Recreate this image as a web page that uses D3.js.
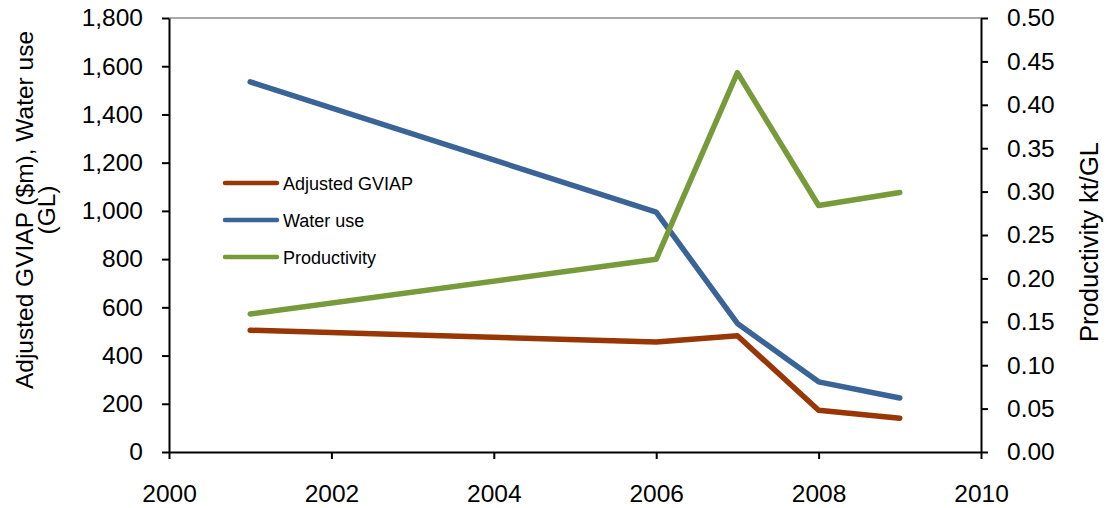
<!DOCTYPE html>
<html>
<head>
<meta charset="utf-8">
<script src="https://cdn.jsdelivr.net/npm/d3@7"></script>
<style>
  html, body { margin: 0; padding: 0; background: #fff; }
  svg { display: block; font-family: "Liberation Sans", Arial, sans-serif; }
</style>
</head>
<body>
<svg id="chart" width="1107" height="508"></svg>
<script>
// Series data
const years = [2001, 2006, 2007, 2008, 2009];
const gviap = [505, 456, 482, 173, 140];          // Adjusted GVIAP ($m)
const waterUse = [1535, 995, 533, 291, 224];      // Water use (GL)
const productivity = [0.159, 0.222, 0.437, 0.284, 0.299]; // kt/GL

// Axis ticks
const xTicks = [2000, 2002, 2004, 2006, 2008, 2010];
const leftTicks = [0, 200, 400, 600, 800, 1000, 1200, 1400, 1600, 1800];
const rightTicks = [0, 0.05, 0.1, 0.15, 0.2, 0.25, 0.3, 0.35, 0.4, 0.45, 0.5];

const legendNames = ["Adjusted GVIAP", "Water use", "Productivity"];
const colors = ["#993606", "#3A6497", "#779A3A"];

const svg = d3.select("#chart");
const m = { left: 169, right: 981, top: 18, bottom: 452 };

const x = d3.scaleLinear().domain([2000, 2010]).range([m.left, m.right]);
const yL = d3.scaleLinear().domain([0, 1800]).range([m.bottom, m.top]);
const yR = d3.scaleLinear().domain([0, 0.5]).range([m.bottom, m.top]);

// Top frame line
svg.append("line")
  .attr("x1", m.left).attr("x2", m.right)
  .attr("y1", m.top).attr("y2", m.top)
  .attr("stroke", "#8c8c8c").attr("stroke-width", 1.5);

const fmtL = d3.format(",");
const fmtR = d3.format(".2f");

const styleAxis = g => {
  g.selectAll(".domain").attr("stroke", "#000").attr("stroke-width", 2);
  g.selectAll(".tick line").attr("stroke", "#000").attr("stroke-width", 2);
  g.selectAll(".tick text").attr("fill", "#000")
    .style("font-family", '"Liberation Sans", Arial, sans-serif')
    .style("font-size", "24.5px");
};

svg.append("g")
  .attr("transform", `translate(${m.left},0)`)
  .call(d3.axisLeft(yL).tickValues(leftTicks).tickFormat(fmtL).tickSize(7).tickSizeOuter(0).tickPadding(19))
  .call(styleAxis);

svg.append("g")
  .attr("transform", `translate(${m.right},0)`)
  .call(d3.axisRight(yR).tickValues(rightTicks).tickFormat(fmtR).tickSize(7).tickSizeOuter(0).tickPadding(19))
  .call(styleAxis);

svg.append("g")
  .attr("transform", `translate(0,${m.bottom})`)
  .call(d3.axisBottom(x).tickValues(xTicks).tickFormat(d3.format("d")).tickSize(7).tickSizeOuter(0).tickPadding(26))
  .call(styleAxis);

// Axis titles
const leftTitle = svg.append("text")
  .attr("transform", `translate(33,210) rotate(-90)`)
  .attr("text-anchor", "middle")
  .style("font-size", "24.5px").attr("fill", "#000");
leftTitle.append("tspan").attr("x", 0).attr("y", 0).text("Adjusted GVIAP ($m), Water use");
leftTitle.append("tspan").attr("x", 0).attr("y", 22).text("(GL)");

svg.append("text")
  .attr("transform", `translate(1098,242) rotate(-90)`)
  .attr("text-anchor", "middle")
  .style("font-size", "25.5px").attr("fill", "#000")
  .text("Productivity kt/GL");

// Lines
const lineL = d3.line().x((d, i) => x(years[i])).y(d => yL(d));
const lineR = d3.line().x((d, i) => x(years[i])).y(d => yR(d));

const seriesDefs = [
  { vals: gviap, gen: lineL, color: colors[0] },
  { vals: waterUse, gen: lineL, color: colors[1] },
  { vals: productivity, gen: lineR, color: colors[2] }
];

seriesDefs.forEach(s => {
  svg.append("path")
    .attr("d", s.gen(s.vals))
    .attr("fill", "none")
    .attr("stroke", s.color)
    .attr("stroke-width", 5.5)
    .attr("stroke-linejoin", "round")
    .attr("stroke-linecap", "round");
});

// Legend
const legend = svg.append("g").attr("transform", "translate(225,183)");
legendNames.forEach((name, i) => {
  const gy = i * 37;
  legend.append("line")
    .attr("x1", 0).attr("x2", 52).attr("y1", gy).attr("y2", gy)
    .attr("stroke", colors[i]).attr("stroke-width", 4.5)
    .attr("stroke-linecap", "round");
  legend.append("text")
    .attr("x", 58).attr("y", gy + 6.5)
    .style("font-size", "18px").attr("fill", "#000")
    .text(name);
});
</script>
</body>
</html>
